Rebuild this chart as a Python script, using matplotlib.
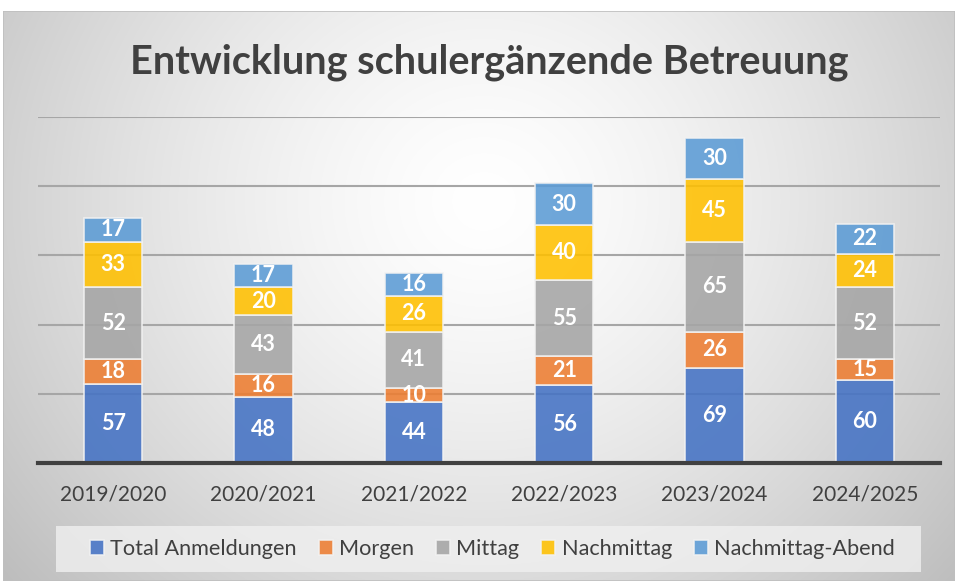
import numpy as np
import matplotlib
matplotlib.use("Agg")
import matplotlib.pyplot as plt
from matplotlib.patches import Rectangle

plt.rcParams['font.family'] = ['Lato', 'DejaVu Sans']

years = ["2019/2020", "2020/2021", "2021/2022", "2022/2023", "2023/2024", "2024/2025"]
series_names = ["Total Anmeldungen", "Morgen", "Mittag", "Nachmittag", "Nachmittag-Abend"]
total = [57, 48, 44, 56, 69, 60]
morgen = [18, 16, 10, 21, 26, 15]
mittag = [52, 43, 41, 55, 65, 52]
nachmittag = [33, 20, 26, 40, 45, 24]
abend = [17, 17, 16, 30, 30, 22]
colors = ["#4472C4", "#ED7D31", "#A5A5A5", "#FFC000", "#5B9BD5"]

W, H = 955, 581
fig = plt.figure(figsize=(W/100, H/100), dpi=100, facecolor="white")

# gradient background (chart area)
bx0, by0, bx1, by1 = 3, 11, 955, 581
bg = fig.add_axes([bx0/W, 1-by1/H, (bx1-bx0)/W, (by1-by0)/H])
yy, xx = np.mgrid[0:by1-by0, 0:bx1-bx0]
cx, cy = 480, 190
r = np.sqrt(((xx-cx)/560)**2 + ((yy-cy)/520)**2)
val = 1.0 - 0.22*np.clip(r, 0, 1.3)**1.4
img = np.dstack([val, val, val])
bg.imshow(img, aspect='auto', extent=[0, 1, 0, 1], interpolation='bilinear')
bg.set_axis_off()
bg.add_patch(Rectangle((0, 0), 1, 1, transform=bg.transAxes, fill=False,
                       edgecolor="#bfbfbf", lw=1.2))

# plot area
px0, px1, py0, py1 = 38, 940, 117, 463
ax = fig.add_axes([px0/W, 1-py1/H, (px1-px0)/W, (py1-py0)/H])
ax.set_facecolor("none")
ax.set_xlim(-0.5, 5.5)
ax.set_ylim(0, 250)
for s in ax.spines.values():
    s.set_visible(False)
ax.set_yticks([50, 100, 150, 200, 250])
ax.yaxis.grid(True, color="#a6a6a6", lw=1.5)
ax.set_axisbelow(True)
ax.tick_params(axis='y', left=False, labelleft=False)
ax.tick_params(axis='x', bottom=False, labelsize=15, labelcolor="#404040", pad=12)
x = np.arange(len(years))
ax.set_xticks(x)
ax.set_xticklabels(years)
ax.axhline(0, color="#404040", lw=3, zorder=5, clip_on=False)

bottom = np.zeros(len(years))
data = [total, morgen, mittag, nachmittag, abend]
handles = []
for vals, c, name in zip(data, colors, series_names):
    vals = np.array(vals, dtype=float)
    bars = ax.bar(x, vals, 0.39, bottom=bottom, color=c, alpha=0.88,
                  edgecolor="#f2f2f2", linewidth=1.2, label=name, zorder=3)
    handles.append(bars)
    for xi, v, b in zip(x, vals, bottom):
        ax.text(xi, b + v/2, f"{int(v)}", ha="center", va="center",
                color="white", fontsize=15.5, fontweight="bold", zorder=6)
    bottom += vals

fig.text(489/W, 1-62/H, "Entwicklung schulergänzende Betreuung", ha="center",
         va="center", fontsize=28.5, fontweight="bold", color="#404040")

# legend
lx0, lx1, ly0, ly1 = 56, 921, 526, 572
fig.patches.append(Rectangle((lx0/W, 1-ly1/H), (lx1-lx0)/W, (ly1-ly0)/H,
                             transform=fig.transFigure, facecolor="#f0f0f0",
                             alpha=0.8, edgecolor="none", zorder=1))
leg = fig.legend(handles=handles, labels=series_names, loc="center",
                 bbox_to_anchor=(((lx0+lx1)/2 + 4)/W, 1-((ly0+ly1)/2)/H), ncol=5,
                 frameon=False, fontsize=15.6, handlelength=0.65, handleheight=0.65,
                 handletextpad=0.3, columnspacing=1.0, labelcolor="#404040")

fig.savefig("out.png", dpi=100, facecolor="white")
